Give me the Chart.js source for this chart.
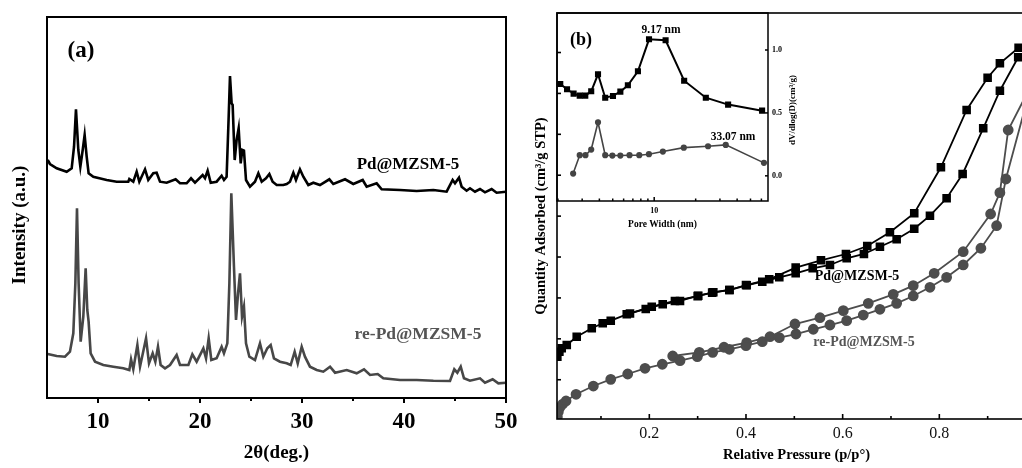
<!DOCTYPE html>
<html>
<head>
<meta charset="utf-8">
<script src="https://cdn.jsdelivr.net/npm/chart.js@4.4.1/dist/chart.umd.min.js"></script>
<style>
  html, body { margin: 0; padding: 0; background: #fff; overflow: hidden; }
  body { width: 1022px; height: 468px; position: relative; }
  canvas { position: absolute; top: 0; }
  #xrdChart { left: 0; }
  #isoChart { left: 500px; }
  #poreChart { left: 540px; }
</style>
</head>
<body>
<canvas id="xrdChart" width="520" height="468"></canvas>
<canvas id="isoChart" width="550" height="468"></canvas>
<canvas id="poreChart" width="270" height="240"></canvas>
<script>
// (a) XRD patterns, 2theta in degrees, intensity in a.u. (stacked)
const pdTheta = [5.07, 5.29, 5.95, 6.93, 7.42, 7.65, 7.84, 8.07, 8.27, 8.50, 8.69, 8.89, 9.08, 9.54, 10.85, 11.83, 12.97, 13.07, 13.46, 13.79,
  14.05, 14.61, 14.93, 15.42, 15.75, 16.08, 16.73, 17.61, 18.04, 18.69, 19.12, 19.51, 20.26, 20.49, 20.75, 21.05, 21.63, 22.12, 22.35, 22.61,
  22.81, 22.94, 23.10, 23.20, 23.40, 23.59, 23.79, 23.99, 24.15, 24.31, 24.51, 24.90, 25.39, 25.72, 26.05, 26.47, 26.80, 27.12, 27.52, 28.17,
  28.50, 28.82, 29.15, 29.41, 29.80, 30.13, 30.62, 31.11, 31.76, 32.68, 33.07, 34.22, 35.03, 35.95, 36.34, 37.32, 37.81, 39.61, 41.24, 42.88,
  44.18, 44.77, 45.00, 45.39, 45.65, 46.14, 46.47, 46.96, 47.45, 47.94, 48.59, 49.08, 50.00];
const pdIntensity = [238, 234, 229.7, 226.3, 229.7, 251.3, 288.7, 248, 231.3, 248, 263, 241.3, 224.7, 221.3, 218, 216.3, 216.3, 219, 216.3, 226.3,
  216.3, 228.7, 218, 224.7, 225.3, 216.3, 215.3, 218.7, 214.7, 214.7, 219.7, 215.3, 223, 219.7, 227.3, 215.3, 216.3, 222.3, 218, 221.3,
  281, 322, 294.7, 293, 238, 258, 269.7, 234.7, 248, 247.3, 218, 211.3, 216.3, 224.7, 216.3, 219.7, 224, 216.3, 213, 213,
  214, 216.3, 225.3, 218, 228.7, 221.3, 213, 215.3, 213, 218.7, 214, 218.7, 214, 218, 211.3, 214.7, 208.7, 208, 207, 208,
  206.3, 218, 214.7, 220.3, 211.3, 207.3, 209.7, 206.3, 209, 205.7, 209, 205.3, 206.3];

const reTheta = [5.07, 5.95, 6.76, 7.25, 7.58, 7.78, 7.94, 8.10, 8.30, 8.56, 8.79, 8.95, 9.08, 9.28, 9.71, 10.52, 11.50, 12.48, 13.07, 13.24,
  13.46, 13.86, 14.12, 14.71, 15.00, 15.36, 15.62, 15.88, 16.14, 16.57, 17.06, 17.71, 18.04, 18.86, 19.25, 19.67, 20.33, 20.59, 20.85, 21.11,
  21.63, 22.12, 22.35, 22.68, 22.88, 23.07, 23.20, 23.33, 23.53, 23.73, 23.92, 24.12, 24.31, 24.51, 24.84, 25.39, 25.88, 26.21, 26.60, 26.93,
  27.25, 27.84, 28.50, 28.89, 29.28, 29.58, 29.97, 30.29, 30.78, 31.44, 32.09, 32.75, 33.24, 34.38, 35.36, 36.08, 36.67, 37.42, 37.97, 39.61,
  41.24, 42.88, 44.51, 44.93, 45.23, 45.56, 45.88, 46.47, 47.45, 47.94, 48.69, 49.25, 50.00];
const reIntensity = [44, 42, 41.3, 46.3, 64.7, 114.7, 189.7, 114.7, 56.3, 81.3, 129.7, 88, 76.3, 44.7, 36.3, 33, 31.3, 29.7, 28, 38.7,
  28.7, 53, 31.3, 59.7, 34.7, 44.7, 36.3, 51.3, 33, 29.7, 33, 43, 33, 33, 43.7, 36.3, 49.7, 39.7, 59.7, 38,
  39.7, 51.3, 44.7, 54.7, 114.7, 204.7, 168, 131.3, 78, 104.7, 124.7, 81.3, 91.3, 54.7, 41.3, 38, 54.7, 41.3, 49.7, 53,
  39.7, 36.3, 34.7, 33, 46.3, 34.7, 51.3, 41.3, 31.3, 28, 26.3, 31.3, 25.3, 28, 24.7, 28.7, 23, 24, 19.7, 18,
  18, 17.3, 17, 28.7, 25.3, 31.3, 19.7, 17.3, 19.7, 15.3, 18.7, 14.7, 15.3];

const xrdTickLabels = [10, 20, 30, 40, 50];
const xrdMinorTicks = [15, 25, 35, 45];

// (b) N2 isotherms, relative pressure vs quantity adsorbed (cm3/g STP)
const pdAdsP = [0.0097, 0.0139, 0.0188, 0.0292, 0.0498, 0.0809, 0.1036, 0.1202, 0.1533, 0.1926, 0.2277, 0.2635, 0.3013, 0.3324, 0.3655, 0.4014,
  0.4337, 0.4689, 0.5028, 0.5380, 0.5737, 0.6083, 0.6440, 0.6771, 0.7117, 0.7481, 0.7806, 0.8151, 0.8482, 0.8908, 0.9253, 0.9632];
const pdAdsV = [78.2, 84.3, 88.4, 92.5, 102.6, 112.9, 119.0, 122.2, 130.0, 136.5, 142.2, 146.3, 152.7, 156.9, 159.7, 165.4,
  169.8, 175.2, 180.1, 186.2, 190.3, 198.5, 203.7, 212.6, 221.7, 234.6, 250.5, 271.8, 301.5, 357.4, 403.3, 444.2];
const pdDesP = [0.964, 0.9253, 0.8999, 0.8565, 0.8033, 0.7481, 0.6978, 0.6509, 0.6068, 0.5551, 0.5028, 0.448, 0.400, 0.366, 0.330, 0.300, 0.253, 0.205, 0.160];
const pdDesV = [455.9, 436.8, 419.2, 379.8, 309.7, 253.5, 230.2, 213.5, 203.7, 196.0, 187.0, 172.8, 165.8, 159.7, 156.5, 152.2, 146.3, 139.3, 131.0];

const reAdsP = [0.0097, 0.0118, 0.0153, 0.0209, 0.0277, 0.0484, 0.0842, 0.1202, 0.1553, 0.1911, 0.2269, 0.2635, 0.2993, 0.3311, 0.3655, 0.4000, 0.4337,
  0.4689, 0.5034, 0.5392, 0.5737, 0.6083, 0.6426, 0.6771, 0.7117, 0.7460, 0.7806, 0.8151, 0.8494, 0.8860, 0.9185, 0.9377, 0.99];
const reAdsV = [4.8, 10.9, 16.3, 20.3, 24.0, 32.2, 42.3, 50.5, 57.0, 64.0, 68.9, 73.3, 78.2, 83.5, 87.2, 91.6, 96.5,
  101.4, 105.9, 111.7, 116.9, 122.2, 129.1, 136.1, 143.4, 152.4, 163.0, 175.2, 190.3, 210.7, 238.3, 295.4, 410];
const reDesP = [0.99, 0.9425, 0.9253, 0.9061, 0.8494, 0.7894, 0.7460, 0.7047, 0.6530, 0.6013, 0.5530, 0.5013, 0.4496, 0.4014, 0.3545, 0.3034, 0.2484];
const reDesV = [410, 355.3, 278.7, 252.6, 206.5, 180.1, 165.0, 154.4, 143.4, 134.4, 125.8, 118.1, 102.6, 95.3, 89.7, 83.5, 79.0];

const isoTickLabels = [0.2, 0.4, 0.6, 0.8, 1.0];
const isoMinorTicks = [0.1, 0.3, 0.5, 0.7, 0.9];
const isoYTicks = [50, 100, 150, 200, 250, 300, 350, 400, 450];

// (b) inset: pore size distribution, pore width (nm) vs dV/dlog(D)
const poreWidthPd = [2.08, 2.33, 2.60, 2.88, 3.16, 3.49, 3.91, 4.41, 5.02, 5.68, 6.44, 7.62, 9.17, 12.1, 16.5, 23.7, 34.4, 60.7];
const poreDvPd = [0.730, 0.688, 0.653, 0.637, 0.637, 0.672, 0.807, 0.621, 0.635, 0.669, 0.720, 0.831, 1.085, 1.077, 0.756, 0.621, 0.566, 0.518];
const poreWidthRe = [2.58, 2.88, 3.17, 3.49, 3.91, 4.41, 4.97, 5.68, 6.62, 7.79, 9.16, 11.56, 16.4, 24.6, 33.07, 62.6];
const poreDvRe = [0.018, 0.164, 0.164, 0.209, 0.426, 0.164, 0.161, 0.161, 0.164, 0.164, 0.172, 0.193, 0.224, 0.235, 0.246, 0.103];

const poreTickLabels = [10];
const poreMinorTicks = [2, 3, 4, 5, 6, 7, 8, 9, 20, 30, 40, 50, 60];
const poreYTicks = [0, 0.5, 1.0];

const SERIF = "'Liberation Serif', 'Times New Roman', serif";
const toPoints = (xs, ys) => xs.map((x, i) => ({ x, y: ys[i] }));
const setTicks = values => scale => { scale.ticks = values.map(v => ({ value: v })); };

// box round the plot area plus tick marks drawn through the scales
const framePlugin = {
    id: 'frame',
    afterDatasetsDraw(chart, args, opts) {
        const { ctx, chartArea: a, scales } = chart;
        ctx.save();
        ctx.strokeStyle = '#000';
        ctx.lineWidth = opts.width;
        ctx.strokeRect(a.left, a.top, a.right - a.left, a.bottom - a.top);
        (opts.marks || []).forEach(m => {
            const s = scales[m.scale];
            ctx.lineWidth = m.width || opts.width;
            m.values.forEach(v => {
                const p = s.getPixelForValue(v);
                ctx.beginPath();
                if (m.side === 'bottom') {
                    ctx.moveTo(p, a.bottom);
                    ctx.lineTo(p, a.bottom + (m.inward ? -m.len : m.len));
                } else if (m.side === 'left') {
                    ctx.moveTo(a.left, p);
                    ctx.lineTo(a.left + (m.inward ? m.len : -m.len), p);
                } else {
                    ctx.moveTo(a.right, p);
                    ctx.lineTo(a.right + (m.inward ? -m.len : m.len), p);
                }
                ctx.stroke();
            });
        });
        ctx.restore();
    }
};

const textPlugin = {
    id: 'texts',
    afterDraw(chart, args, opts) {
        const ctx = chart.ctx;
        (opts.items || []).forEach(t => {
            ctx.save();
            ctx.font = t.font;
            ctx.fillStyle = t.color || '#000';
            ctx.textAlign = 'center';
            ctx.textBaseline = 'middle';
            ctx.translate(t.x, t.y);
            if (t.rotate) ctx.rotate(t.rotate);
            ctx.fillText(t.text, 0, 0);
            ctx.restore();
        });
    }
};

const noGrid = { display: false, drawTicks: false };

// Panel (a)
new Chart(document.getElementById('xrdChart'), {
    type: 'line',
    data: {
        datasets: [
            { label: 'Pd@MZSM-5', data: toPoints(pdTheta, pdIntensity), borderColor: '#000', borderWidth: 2.6, pointRadius: 0, tension: 0 },
            { label: 're-Pd@MZSM-5', data: toPoints(reTheta, reIntensity), borderColor: '#474747', borderWidth: 2.6, pointRadius: 0, tension: 0 }
        ]
    },
    options: {
        responsive: false,
        animation: false,
        layout: { padding: { left: 0, right: 14, top: 17, bottom: 0 } },
        plugins: {
            legend: { display: false },
            tooltip: { enabled: false },
            frame: {
                width: 2,
                marks: [
                    { scale: 'x', side: 'bottom', values: xrdTickLabels, len: 5, inward: false },
                    { scale: 'x', side: 'bottom', values: xrdMinorTicks, len: 3, inward: false }
                ]
            },
            texts: {
                items: [
                    { text: '(a)', x: 81, y: 51, font: `bold 23px ${SERIF}` },
                    { text: 'Pd@MZSM-5', x: 408, y: 165, font: `bold 17px ${SERIF}` },
                    { text: 're-Pd@MZSM-5', x: 418, y: 334, font: `bold 17.5px ${SERIF}`, color: '#555' },
                    { text: 'Intensity (a.u.)', x: 20, y: 225, font: `bold 19px ${SERIF}`, rotate: -Math.PI / 2 }
                ]
            }
        },
        scales: {
            x: {
                type: 'linear', min: 5, max: 50,
                afterBuildTicks: setTicks(xrdTickLabels),
                ticks: { autoSkip: false, maxRotation: 0, padding: 10, color: '#000', font: { family: SERIF, size: 23, weight: 'bold' } },
                grid: noGrid, border: { display: false },
                title: { display: true, text: '2θ(deg.)', color: '#000', font: { family: SERIF, size: 19, weight: 'bold' }, padding: { top: 0, bottom: 4 } },
                afterFit: s => { s.height = 70; s.paddingLeft = 0; s.paddingRight = 0; }
            },
            y: {
                type: 'linear', min: 0, max: 381,
                ticks: { display: false },
                grid: noGrid, border: { display: false },
                afterFit: s => { s.width = 47; s.paddingTop = 0; s.paddingBottom = 0; }
            }
        }
    },
    plugins: [framePlugin, textPlugin]
});

// Panel (b) isotherms
const squareStyle = { pointStyle: 'rect', pointRadius: 4.8, borderWidth: 1.8, tension: 0 };
const circleStyle = { pointStyle: 'circle', pointRadius: 4.5, borderWidth: 1.8, tension: 0 };
new Chart(document.getElementById('isoChart'), {
    type: 'line',
    data: {
        datasets: [
            { label: 'Pd ads', data: toPoints(pdAdsP, pdAdsV), borderColor: '#000', backgroundColor: '#000', ...squareStyle },
            { label: 'Pd des', data: toPoints(pdDesP, pdDesV), borderColor: '#000', backgroundColor: '#000', ...squareStyle },
            { label: 're ads', data: toPoints(reAdsP, reAdsV), borderColor: '#4d4d4d', backgroundColor: '#4d4d4d', ...circleStyle },
            { label: 're des', data: toPoints(reDesP, reDesV), borderColor: '#4d4d4d', backgroundColor: '#4d4d4d', ...circleStyle }
        ]
    },
    options: {
        responsive: false,
        animation: false,
        layout: { padding: { left: 0, right: 14, top: 13, bottom: 0 } },
        plugins: {
            legend: { display: false },
            tooltip: { enabled: false },
            frame: {
                width: 1.6,
                marks: [
                    { scale: 'x', side: 'bottom', values: isoTickLabels, len: 5, inward: true },
                    { scale: 'x', side: 'bottom', values: isoMinorTicks, len: 3, inward: true },
                    { scale: 'y', side: 'left', values: isoYTicks, len: 4, inward: true }
                ]
            },
            texts: {
                items: [
                    { text: 'Pd@MZSM-5', x: 357, y: 276, font: `bold 14px ${SERIF}` },
                    { text: 're-Pd@MZSM-5', x: 364, y: 342, font: `bold 14px ${SERIF}`, color: '#555' }
                ]
            }
        },
        scales: {
            x: {
                type: 'linear', min: 0.009, max: 1.0,
                afterBuildTicks: setTicks(isoTickLabels),
                ticks: { autoSkip: false, maxRotation: 0, padding: 5.5, color: '#111', font: { family: SERIF, size: 16 }, callback: v => v.toFixed(1) },
                grid: noGrid, border: { display: false },
                title: { display: true, text: 'Relative Pressure (p/p°)', color: '#000', font: { family: SERIF, size: 14.5, weight: 'bold' }, padding: { top: 0, bottom: 4.5 } },
                afterFit: s => { s.height = 49; s.paddingLeft = 0; s.paddingRight = 0; }
            },
            y: {
                type: 'linear', min: 2, max: 498.3,
                ticks: { display: false },
                grid: noGrid, border: { display: false },
                title: { display: true, text: 'Quantity Adsorbed (cm³/g STP)', color: '#000', font: { family: SERIF, size: 14.5, weight: 'bold' }, padding: { top: 33, bottom: 0 } },
                afterFit: s => { s.width = 57; s.paddingTop = 0; s.paddingBottom = 0; }
            }
        }
    },
    plugins: [framePlugin, textPlugin]
});

// Panel (b) inset
new Chart(document.getElementById('poreChart'), {
    type: 'line',
    data: {
        datasets: [
            { label: 'Pd', data: toPoints(poreWidthPd, poreDvPd), borderColor: '#000', backgroundColor: '#000', borderWidth: 2, pointStyle: 'rect', pointRadius: 2.9, tension: 0 },
            { label: 're', data: toPoints(poreWidthRe, poreDvRe), borderColor: '#444', backgroundColor: '#444', borderWidth: 1.6, pointStyle: 'circle', pointRadius: 2.3, tension: 0 }
        ]
    },
    options: {
        responsive: false,
        animation: false,
        layout: { padding: { left: 17, right: 0, top: 13, bottom: 0 } },
        plugins: {
            legend: { display: false },
            tooltip: { enabled: false },
            frame: {
                width: 1.5,
                marks: [
                    { scale: 'x', side: 'bottom', values: poreTickLabels, len: 4, inward: true },
                    { scale: 'x', side: 'bottom', values: poreMinorTicks, len: 2.5, inward: true },
                    { scale: 'y', side: 'right', values: poreYTicks, len: 3, inward: true }
                ]
            },
            texts: {
                items: [
                    { text: '(b)', x: 41, y: 40, font: `bold 18px ${SERIF}` },
                    { text: '9.17 nm', x: 121, y: 30, font: `bold 11.5px ${SERIF}` },
                    { text: '33.07 nm', x: 193, y: 137, font: `bold 11.5px ${SERIF}` },
                    { text: 'dV/dlog(D)(cm³/g)', x: 253, y: 110, font: `bold 9px ${SERIF}`, rotate: -Math.PI / 2 }
                ]
            }
        },
        scales: {
            x: {
                type: 'logarithmic', min: 1.97, max: 67,
                afterBuildTicks: setTicks(poreTickLabels),
                ticks: { autoSkip: false, maxRotation: 0, padding: 5, color: '#000', font: { family: SERIF, size: 8, weight: 'bold' }, callback: v => String(v) },
                grid: noGrid, border: { display: false },
                title: { display: true, text: 'Pore Width (nm)', color: '#000', font: { family: SERIF, size: 9.5, weight: 'bold' }, padding: { top: 0, bottom: 10 } },
                afterFit: s => { s.height = 39; s.paddingLeft = 0; s.paddingRight = 0; }
            },
            y: {
                type: 'linear', position: 'right', min: -0.2, max: 1.294,
                afterBuildTicks: setTicks(poreYTicks),
                ticks: { padding: 4, color: '#000', font: { family: SERIF, size: 8, weight: 'bold' }, callback: v => v.toFixed(1) },
                grid: noGrid, border: { display: false },
                afterFit: s => { s.width = 42; s.paddingTop = 0; s.paddingBottom = 0; }
            }
        }
    },
    plugins: [framePlugin, textPlugin]
});
</script>
</body>
</html>
